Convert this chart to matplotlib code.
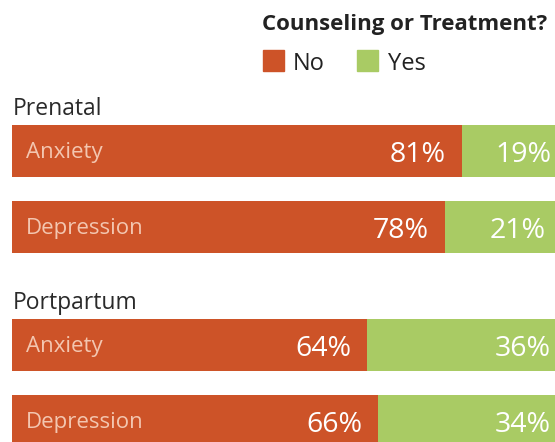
import matplotlib.pyplot as plt
import matplotlib.patches as pat

# data
groups = ["Prenatal", "Portpartum"]
conditions = ["Anxiety", "Depression", "Anxiety", "Depression"]
no_pct = [81, 78, 64, 66]
yes_pct = [19, 21, 36, 34]

orange = "#CD5328"
green = "#A9CB64"
W, H = 555, 442

plt.rcParams['font.family'] = ['Open Sans', 'DejaVu Sans']

fig = plt.figure(figsize=(W / 100, H / 100), dpi=100)
# axes spans from x=12px to x=567px (right end cut off by the figure)
ax = fig.add_axes([12 / W, 0, 555 / W, 1])
ax.set_xlim(0, 100)
ax.set_ylim(H, 0)
ax.axis("off")

# bar centres in pixel rows
centres = [151, 227, 345, 421]
bh = 52

ax.barh(centres, no_pct, height=bh, color=orange, linewidth=0)
ax.barh(centres, yes_pct, left=no_pct, height=bh, color=green, linewidth=0)

pad = 16 / 5.55  # ~16px in percent units
for c, cond, n, y in zip(centres, conditions, no_pct, yes_pct):
    ax.text(14 / 5.55, c + 7, cond, color="#F3C6B0", fontsize=16,
            va="baseline", ha="left")
    ax.text(n - pad, c + 11, "%d%%" % n, color="white", fontsize=20.5,
            va="baseline", ha="right")
    ax.text(n + y - pad, c + 11, "%d%%" % y, color="white", fontsize=20.5,
            va="baseline", ha="right")


def ftext(x, y, s, **kw):
    fig.text(x / W, 1 - y / H, s, va="baseline", **kw)


# group headings
ftext(13, 115, groups[0], fontsize=16.5, color="#2a2a2a")
ftext(13, 309, groups[1], fontsize=16.5, color="#2a2a2a")

# legend
ftext(262, 30, "Counseling or Treatment?", fontsize=16, fontweight="bold",
      color="#222222")
fig.patches.append(pat.Rectangle((263 / W, 1 - 71 / H), 21 / W, 21 / H,
                                 transform=fig.transFigure, color=orange))
fig.patches.append(pat.Rectangle((357 / W, 1 - 71 / H), 21 / W, 21 / H,
                                 transform=fig.transFigure, color=green))
ftext(293, 70, "No", fontsize=17, color="#222222")
ftext(388, 70, "Yes", fontsize=17, color="#222222")

fig.savefig("out.png", dpi=100)
